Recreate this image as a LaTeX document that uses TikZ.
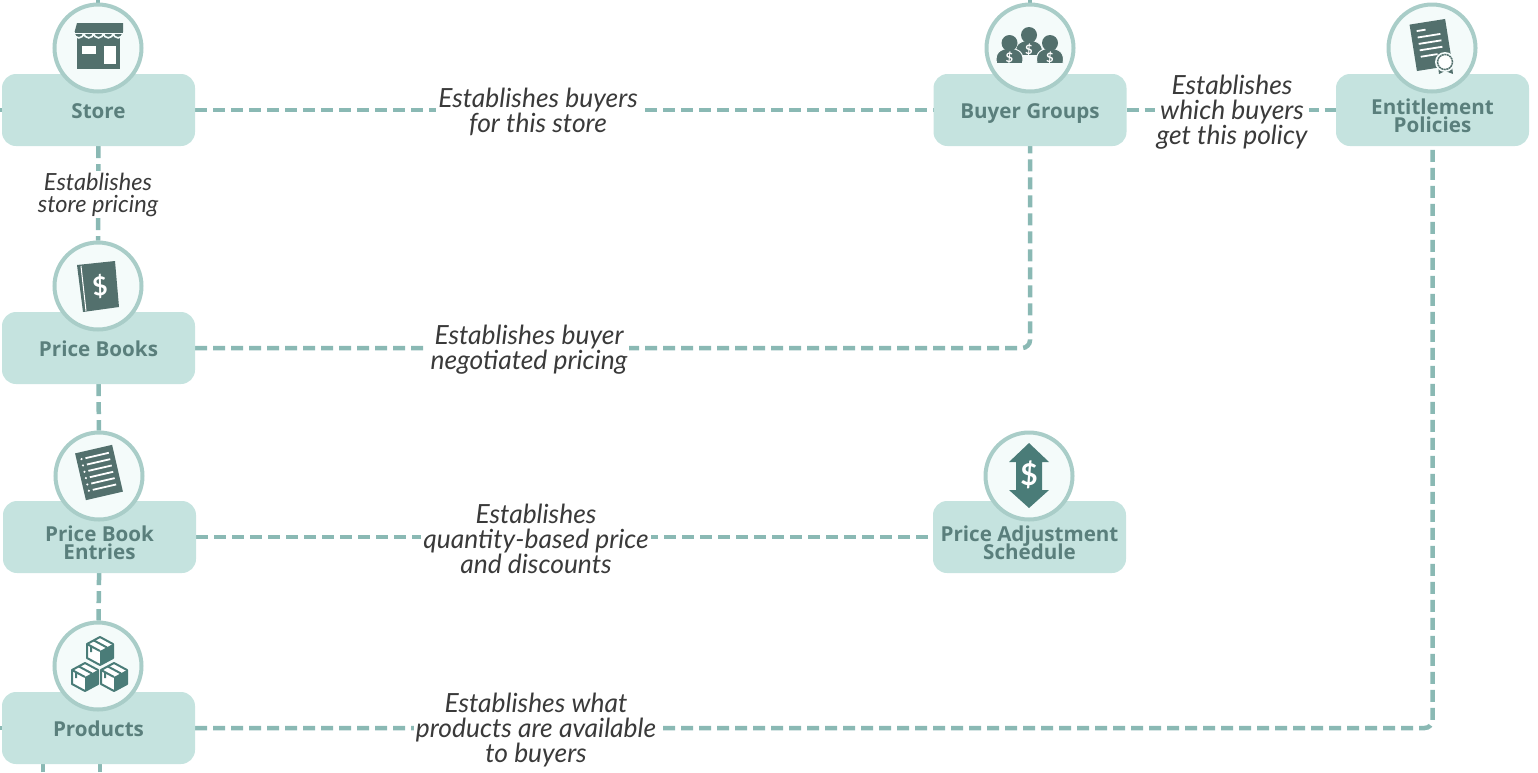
\documentclass[tikz,border=0pt]{standalone}
\usepackage{fontspec}
\setmainfont{Lato}
\newfontfamily\boxfont{Open Sans}
\usetikzlibrary{positioning,backgrounds}
\definecolor{boxfill}{HTML}{C5E3DF}
\definecolor{boxtext}{HTML}{5A7F7C}
\definecolor{ringfill}{HTML}{F4FBFA}
\definecolor{ringline}{HTML}{A9CDC8}
\definecolor{linkline}{HTML}{8AB9B4}
\definecolor{icondark}{HTML}{53706D}
\definecolor{iconteal}{HTML}{4A7C78}
\definecolor{linktext}{HTML}{3A3A3A}
\tikzset{
  boxnode/.style={rectangle,rounded corners=14pt,fill=boxfill,text=boxtext,minimum width=193pt,minimum height=72pt,inner sep=0pt,align=center,execute at begin node={\lineskiplimit=-20pt},font=\boxfont\bfseries\fontsize{20.6}{18.7}\selectfont},
  boxone/.style={boxnode,text height=19pt,text depth=2pt},
  ringnode/.style={circle,draw=ringline,line width=4pt,fill=ringfill,minimum size=87pt,inner sep=0pt},
  linklabel/.style={fill=white,text=linktext,align=center,inner sep=2pt,font=\itshape\fontsize{26.4}{25}\selectfont},
  linksmall/.style={linklabel,font=\itshape\fontsize{23.6}{22}\selectfont},
  linkdash/.style={draw=linkline,line width=4.5pt,dash pattern=on 12pt off 6pt},
  pics/crate/.style={code={
    \fill[white,draw=iconteal,line width=2pt,line join=round] (0,-14) -- (13,-7) -- (13,7) -- (0,14) -- (-13,7) -- (-13,-7) -- cycle;
    \fill[iconteal] (0,0) -- (13,-7) -- (13,7) -- (0,14) -- cycle;
    \draw[iconteal,line width=2pt] (-13,-7) -- (0,0) (-6,-10.5) -- (7,-3.5) (-9,-4.5) -- (-9,1);
  }},
  pics/buyer/.style={code={
    \fill[icondark,draw=ringfill,line width=1pt] (-13,20.5) .. controls (-15,10) and (-10,6) .. (0,5) .. controls (10,6) and (15,10) .. (13,20.5) -- cycle;
    \fill[icondark] (0,0) circle (8pt);
    \node[text=white,inner sep=0pt,font=\bfseries\fontsize{13}{13}\selectfont] at (0,15) {\$};
  }},
}
\begin{document}
\begin{tikzpicture}[x=1pt,y=-1pt]
\useasboundingbox (0,0) rectangle (1538,772);
\node[boxone] (store) at (98.5,110) {Store};
\node[boxone] (buyers) at (1030,110) {Buyer Groups};
\node[boxnode] (policies) at (1432.5,110) {\mbox{}\\[8.3pt]Entitlement\\Policies};
\node[boxone] (pricebooks) at (98.5,348) {Price Books};
\node[boxnode] (entries) at (99.5,537) {\mbox{}\\[8.3pt]Price Book\\Entries};
\node[boxnode] (schedule) at (1029.5,537) {\mbox{}\\[8.3pt]Price Adjustment\\Schedule};
\node[boxone] (products) at (98.5,728) {Products};

\node[ringnode] (storering) at (98,48) {};
\node[ringnode] (buyersring) at (1030,48) {};
\node[ringnode] (policiesring) at (1432,48) {};
\node[ringnode] (pricebooksring) at (98,286) {};
\node[ringnode] (entriesring) at (99,476) {};
\node[ringnode] (schedulering) at (1029,476) {};
\node[ringnode] (productsring) at (98,666) {};

\node[linklabel] (storebuyers) at (538,111.5) {Establishes buyers\\for this store};
\node[linklabel] (buyerspolicies) at (1232,112) {Establishes\\which buyers\\get this policy};
\node[linksmall] (storebooks) at (98,194.5) {Establishes\\store pricing};
\node[linklabel] (booksbuyers) at (529,349.5) {Establishes buyer\\negotiated pricing};
\node[linklabel] (entriessched) at (536,539) {Establishes\\quantity-based price\\and discounts};
\node[linklabel] (productspol) at (536,730) {Establishes what\\products are available\\to buyers};

\coordinate (storetop) at (98,0);
\coordinate (buyerstop) at (1030,0);
\coordinate (storeleft) at (0,110);
\coordinate (productsleft) at (0,728);
\coordinate (downa) at (43,772);
\coordinate (downb) at (100,772);

\begin{scope}[on background layer]
\draw[linkdash] (storetop) -- (storering);
\draw[linkdash] (buyerstop) -- (buyersring);
\draw[linkdash] (storeleft) -- (store);
\draw[linkdash] (productsleft) -- (products);
\draw[linkdash] (store) -- (buyers);
\draw[linkdash] (buyers) -- (policies);
\draw[linkdash] (store) -- (pricebooksring);
\draw[linkdash] (pricebooks) -- (entriesring);
\draw[linkdash] (entries) -- (productsring);
\draw[linkdash] (entries) -- (schedule);
\draw[linkdash,rounded corners=8pt] (pricebooks) -| (buyers);
\draw[linkdash,rounded corners=8pt] (products) -| (policies);
\draw[linkdash] (downa) -- (43,764);
\draw[linkdash] (downb) -- (100,764);
\end{scope}

% store
\fill[icondark] (77,23) -- (123,23) -- (123,34) -- (74,34) -- cycle;
\fill[icondark] (77,36) rectangle (120,69);
\fill[white] (82,46) rectangle (96,54);
\fill[white] (104,46) rectangle (116,64);
\foreach \x in {74,83.8,93.6,103.4,113.2} {
  \fill[icondark,draw=ringfill,line width=1.6pt] (\x,33) arc[start angle=180,end angle=360,radius=4.9pt] -- cycle;
}
\fill[icondark] (75,30) rectangle (123,33);
% price book
\fill[icondark] (77,265) -- (115,261) -- (119,307) -- (83,312) -- cycle;
\draw[white,line width=1pt] (81,266) -- (86,311);
\node[text=white,rotate=6,inner sep=0pt,font=\bfseries\fontsize{26}{26}\selectfont] (bookdollar) at (100,286) {\$};
% price book entries
\begin{scope}[shift={(99,472.5)},rotate=13]
\fill[icondark] (-19,-24) rectangle (19,24);
\foreach \y in {-17,-10.5,...,18} {
  \fill[white] (-14,\y) circle (1.2pt);
  \draw[white,line width=1.8pt] (-10,\y) -- (14,\y);
}
\end{scope}
% products
\pic at (100,651) {crate};
\pic at (85,677) {crate};
\pic at (114,677) {crate};
% buyer groups
\pic at (1029,35) {buyer};
\pic at (1009.5,43) {buyer};
\pic at (1050,43) {buyer};
% entitlement policies
\begin{scope}[shift={(1431,45)},rotate=9]
\fill[icondark] (-18,-23.5) rectangle (18,23.5);
\foreach \y/\w in {-16/-3,-9.5/11,-3/11,3.5/11,10/5} {
  \draw[white,line width=1.8pt] (-12,\y) -- (\w,\y);
}
\end{scope}
\fill[icondark] (1438,66) -- (1452,66) -- (1453,74) -- (1445,71) -- (1439,74) -- cycle;
\fill[ringfill] (1445,62) circle (10pt);
\draw[icondark,line width=1.5pt,fill=white,dash pattern=on 2pt off .6pt] (1445,62) circle (7.5pt);
% price adjustment schedule
\fill[iconteal] (1029,443) -- (1049,462) -- (1042,462) -- (1042,490) -- (1049,490) -- (1029,508) -- (1009,490) -- (1016,490) -- (1016,462) -- (1009,462) -- cycle;
\node[text=white,inner sep=0pt,font=\bfseries\fontsize{30}{30}\selectfont] (scheddollar) at (1029,475) {\$};
\end{tikzpicture}
\end{document}
